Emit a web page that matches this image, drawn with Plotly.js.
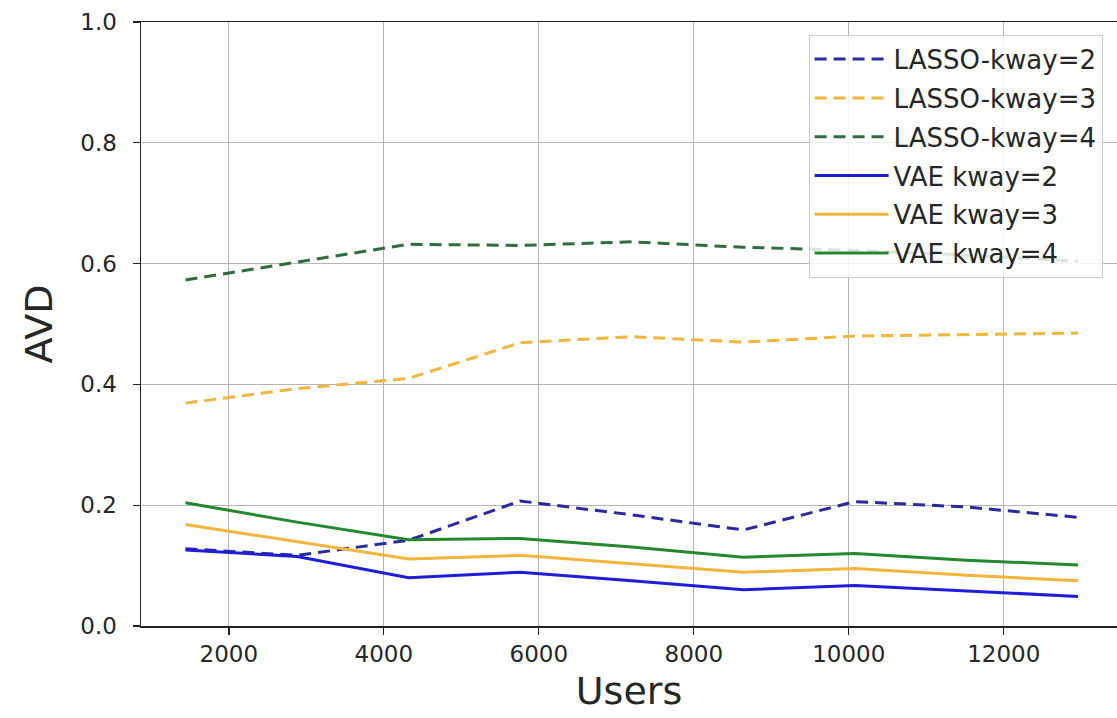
<!DOCTYPE html>
<html>
<head>
<meta charset="utf-8">
<script src="https://cdn.plot.ly/plotly-3.0.1.min.js"></script>
<style>
  html, body { margin: 0; padding: 0; background: #ffffff; }
  #chart { width: 1117px; height: 718px; }
</style>
</head>
<body>
<div id="chart"></div>
<script>
// ---- data ----
const users = [1440, 2880, 4320, 5760, 7200, 8640, 10080, 11520, 12960];

const lassoK2 = [0.128, 0.117, 0.142, 0.207, 0.184, 0.159, 0.206, 0.197, 0.180];
const lassoK3 = [0.369, 0.393, 0.410, 0.469, 0.479, 0.470, 0.480, 0.483, 0.485];
const lassoK4 = [0.573, 0.603, 0.632, 0.630, 0.636, 0.627, 0.622, 0.614, 0.604];
const vaeK2   = [0.126, 0.115, 0.080, 0.089, 0.075, 0.060, 0.067, 0.058, 0.049];
const vaeK3   = [0.168, 0.139, 0.111, 0.117, 0.103, 0.089, 0.095, 0.084, 0.075];
const vaeK4   = [0.204, 0.172, 0.143, 0.145, 0.131, 0.114, 0.120, 0.109, 0.101];

const seriesNames = ["LASSO-kway=2", "LASSO-kway=3", "LASSO-kway=4",
                     "VAE kway=2", "VAE kway=3", "VAE kway=4"];
const yTickVals = [0, 0.2, 0.4, 0.6, 0.8, 1.0];
const yTickText = ["0.0", "0.2", "0.4", "0.6", "0.8", "1.0"];
const xTickVals = [2000, 4000, 6000, 8000, 10000, 12000];
const xTickText = ["2000", "4000", "6000", "8000", "10000", "12000"];

// ---- styles ----
const FONT = "DejaVu Sans, Liberation Sans, sans-serif";
const DASH = "12px,7px";
const styles = [
  {color: "#2a2aa0", dash: DASH},
  {color: "#f3b53c", dash: DASH},
  {color: "#2f6d3c", dash: DASH},
  {color: "#1e1ed8", dash: "solid"},
  {color: "#f4b43a", dash: "solid"},
  {color: "#23882e", dash: "solid"}
];
const values = [lassoK2, lassoK3, lassoK4, vaeK2, vaeK3, vaeK4];

const traces = values.map((v, i) => ({
  type: "scatter",
  mode: "lines",
  x: users,
  y: v,
  name: seriesNames[i],
  legendgroup: "g" + i,
  line: {color: styles[i].color, width: 3, dash: styles[i].dash},
  hoverinfo: "x+y+name"
}));

const layout = {
  width: 1117,
  height: 718,
  margin: {l: 141, r: 0, t: 22, b: 92, pad: 0},
  paper_bgcolor: "#ffffff",
  plot_bgcolor: "#ffffff",
  font: {family: FONT, color: "#262626", size: 23},
  showlegend: true,
  xaxis: {
    range: [866, 13462],
    tickmode: "array",
    tickvals: xTickVals,
    ticktext: xTickText,
    ticks: "outside",
    ticklen: 7,
    tickwidth: 1.3,
    tickcolor: "#222",
    tickfont: {size: 23, family: FONT, color: "#262626"},
    showgrid: true,
    gridcolor: "#b5b5b5",
    gridwidth: 1,
    zeroline: false,
    showline: true,
    linecolor: "#222",
    linewidth: 1.5,
    mirror: true,
    automargin: false,
    title: {text: "Users", font: {size: 38, family: FONT, color: "#262626"}, standoff: 11}
  },
  yaxis: {
    range: [0, 1],
    tickmode: "array",
    tickvals: yTickVals,
    ticktext: yTickText,
    ticks: "outside",
    ticklen: 7,
    tickwidth: 1.3,
    tickcolor: "#222",
    tickfont: {size: 23, family: FONT, color: "#262626"},
    ticklabelstandoff: 11,
    showgrid: true,
    gridcolor: "#b5b5b5",
    gridwidth: 1,
    zeroline: false,
    showline: true,
    linecolor: "#222",
    linewidth: 1.5,
    mirror: false,
    automargin: false,
    title: {text: "AVD", font: {size: 38, family: FONT, color: "#262626"}, standoff: 16}
  },
  legend: {
    x: 0.684,
    y: 0.979,
    xanchor: "left",
    yanchor: "top",
    bgcolor: "rgba(255,255,255,0.82)",
    bordercolor: "#cccccc",
    borderwidth: 1,
    font: {size: 26, family: FONT, color: "#262626"},
    traceorder: "grouped",
    tracegroupgap: 2,
    itemwidth: 74
  }
};

Plotly.newPlot("chart", traces, layout, {displayModeBar: false, staticPlot: true});
</script>
</body>
</html>
